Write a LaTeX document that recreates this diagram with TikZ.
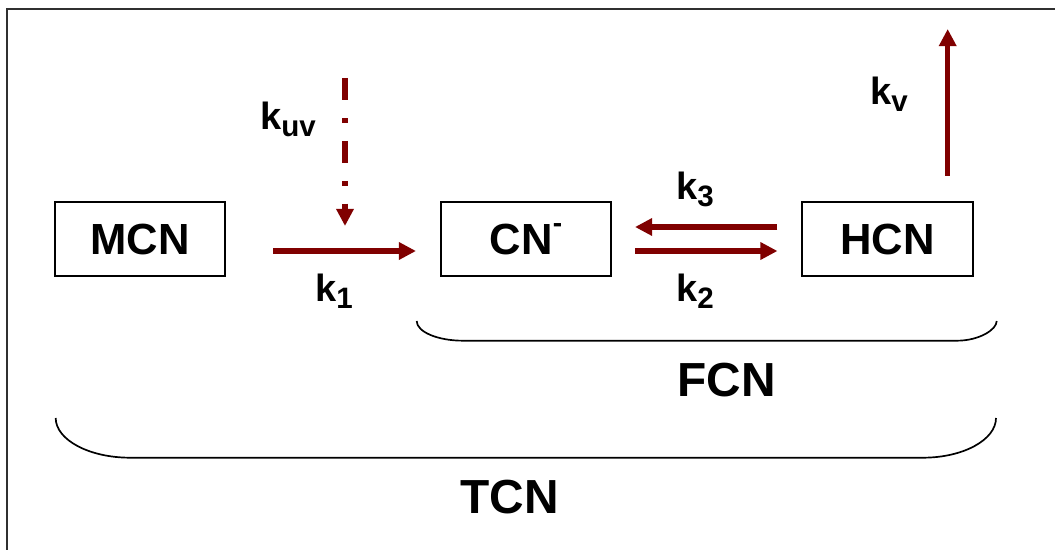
\documentclass[tikz,border=0pt]{standalone}
\usepackage{fontspec}
\setmainfont{Liberation Sans}
\usetikzlibrary{arrows.meta,calc}
\definecolor{ink}{HTML}{000000}
\definecolor{rateline}{HTML}{800000}
\definecolor{frameline}{HTML}{303030}
\newcommand{\spec}{\fontsize{31}{36}\selectfont\bfseries}
\newcommand{\poolfont}{\fontsize{34}{40}\selectfont\bfseries}
\newcommand{\klab}{\fontsize{27}{32}\selectfont\bfseries}
\newcommand{\ksub}[1]{k\raisebox{-4.3pt}{\fontsize{21}{24}\selectfont #1}}
\tikzset{
 every node/.append style={text=ink},
 species/.style={draw=ink,line width=1.4pt,minimum width=4.25cm,minimum height=1.85cm,inner sep=0pt,font=\spec},
 pool/.style={font=\poolfont,inner sep=0pt,anchor=base},
 rlabel/.style={font=\klab,inner sep=0pt,anchor=base west},
 flow/.style={-{Triangle[length=4.3mm,width=4.2mm]},draw=rateline,line width=3.6pt},
 uvflow/.style={flow,dash pattern=on 5.5mm off 4.5mm on 1.2mm off 4.5mm},
 brace/.style={draw=ink,line width=1.2pt},
 frame/.style={draw=frameline,line width=1.5pt},
}
\begin{document}
\begin{tikzpicture}[x=0.025cm,y=-0.025cm]

\useasboundingbox (0,0) rectangle (1055,550);
\draw[frame] (7,550) -- (7,9) -- (1055,9);
\node[species] (mcn) at (140,239) {MCN};
\node[species] (cn) at (526,239) {CN\raisebox{15.5pt}{\fontsize{20}{20}\selectfont -}};
\node[species] (hcn) at (887.5,239) {HCN};
\coordinate (uvsrc) at (345,78);
\coordinate (uvend) at (345,226);
\coordinate (kvend) at (947.7,29);
\draw[flow,shorten <=1.18cm,shorten >=0.6cm] ([yshift=-0.3cm]mcn.east) -- ([yshift=-0.3cm]cn.west);
\draw[flow,shorten <=0.6cm,shorten >=0.575cm] ([yshift=0.3cm]hcn.west) -- ([yshift=0.3cm]cn.east);
\draw[flow,shorten <=0.575cm,shorten >=0.6cm] ([yshift=-0.3cm]cn.east) -- ([yshift=-0.3cm]hcn.west);
\draw[flow,shorten <=0.625cm] (hcn.north -| kvend) -- (kvend);
\draw[uvflow] (uvsrc) -- (uvend);
\node[rlabel] (luv) at (260,130) {\ksub{uv}};
\node[rlabel] (l1) at (315,302) {\ksub{1}};
\node[rlabel] (l2) at (676,302) {\ksub{2}};
\node[rlabel] (l3) at (676,200) {\ksub{3}};
\node[rlabel] (lv) at (870,105) {\ksub{v}};
\draw[brace] (416.7,321) .. controls (416.7,331.8) and (437.5,340.7) .. (463,340.7) -- (957,340.7) .. controls (978.8,340.7) and (996.7,329.8) .. (996.7,321);
\draw[brace] (55.7,418) .. controls (55.7,439.8) and (89.1,457.7) .. (130,457.7) -- (923,457.7) .. controls (963.2,457.7) and (996,439.8) .. (996,418);
\node[pool] (fcn) at (726.7,397) {FCN};
\node[pool] (tcn) at (509.5,514) {TCN};

\end{tikzpicture}
\end{document}
